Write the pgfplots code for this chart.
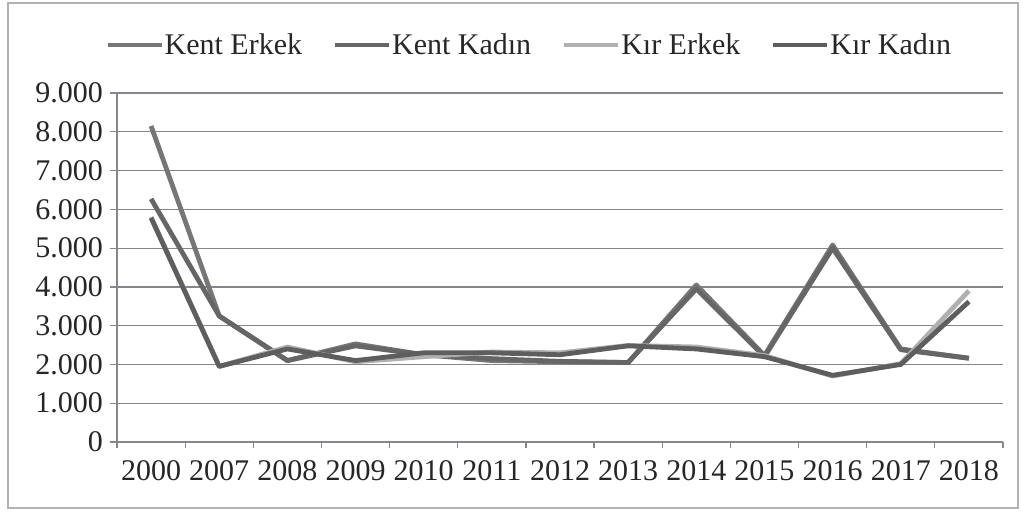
\documentclass[border=0pt]{standalone}
\usepackage{pgfplots}
\pgfplotsset{compat=1.18}
\usepackage{fontspec}
\setmainfont{Liberation Serif}
\definecolor{keC}{HTML}{767676}
\definecolor{kkC}{HTML}{666666}
\definecolor{reC}{HTML}{B0B0B0}
\definecolor{rkC}{HTML}{5E5E5E}
\definecolor{gridC}{HTML}{85878D}
\begin{document}
\begin{tikzpicture}
\useasboundingbox (0,0) rectangle (513pt,257.5pt);
\draw[gray!60, line width=0.8pt] (4pt,3.5pt) rectangle (509pt,256pt);
\begin{axis}[
  at={(58.5pt,36.5pt)}, anchor=south west,
  scale only axis, width=443pt, height=174.5pt,
  xmin=-0.5, xmax=12.5, ymin=0, ymax=9000,
  axis x line*=bottom, axis y line*=left,
  axis line style={gridC, line width=0.6pt},
  xtick={0,...,12},
  xticklabels={2000,2007,2008,2009,2010,2011,2012,2013,2014,2015,2016,2017,2018},
  minor xtick={-0.5,0.5,...,12.5},
  major x tick style={draw=none},
  minor tick length=3pt,
  ytick={0,1000,...,9000},
  yticklabels={0,1.000,2.000,3.000,4.000,5.000,6.000,7.000,8.000,9.000},
  tick align=outside, major tick length=3.5pt,
  tick style={gridC, line width=0.6pt},
  ymajorgrids, grid style={gridC, line width=0.6pt},
  tick label style={font=\fontsize{15}{18}\selectfont, text=black!85},
  xticklabel style={yshift=-2pt},
  legend columns=4,
  legend style={draw=none, fill=none, at={(-0.02,1.137)}, anchor=west,
    font=\fontsize{15}{18}\selectfont, text=black!85,
    nodes={inner xsep=0.5pt},
    /tikz/every even column/.append style={column sep=15pt}},
  legend image code/.code={\draw[#1, line width=2pt] (0pt,0pt) -- (27pt,0pt);},
  every axis plot/.append style={line width=2.4pt, line join=round},
]
\addplot[keC] coordinates {(0,8150) (1,3250) (2,2100) (3,2530) (4,2250) (5,2100) (6,2070) (7,2050) (8,4050) (9,2230) (10,5080) (11,2400) (12,2160)};
\addlegendentry{Kent Erkek}
\addplot[kkC] coordinates {(0,6270) (1,3250) (2,2100) (3,2480) (4,2250) (5,2150) (6,2080) (7,2050) (8,3950) (9,2200) (10,5000) (11,2380) (12,2160)};
\addlegendentry{Kent Kadın}
\addplot[reC] coordinates {(0,5800) (1,1950) (2,2450) (3,2070) (4,2200) (5,2320) (6,2300) (7,2490) (8,2450) (9,2230) (10,1700) (11,2020) (12,3900)};
\addlegendentry{Kır Erkek}
\addplot[rkC] coordinates {(0,5780) (1,1950) (2,2400) (3,2100) (4,2300) (5,2300) (6,2250) (7,2480) (8,2400) (9,2200) (10,1720) (11,2000) (12,3620)};
\addlegendentry{Kır Kadın}
\end{axis}
\end{tikzpicture}
\end{document}
